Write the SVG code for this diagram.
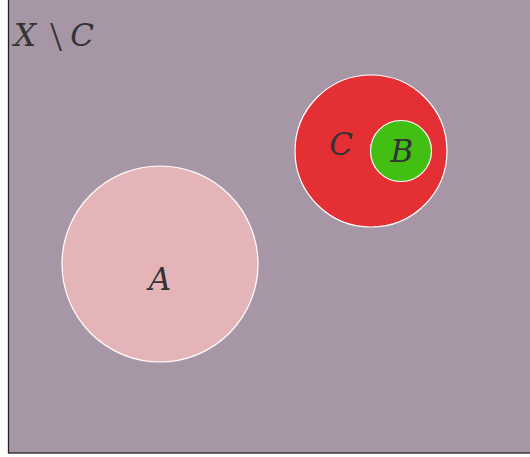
<svg xmlns="http://www.w3.org/2000/svg" width="530" height="457" viewBox="0 0 530 457">
<style>
.set{stroke:#ffffff;stroke-width:1.2}
text{font-family:'DejaVu Serif','Liberation Serif',serif;font-style:italic;font-size:31px;fill:#333333;text-anchor:middle}
</style>
<rect x="0" y="0" width="530" height="457" fill="#ffffff"/>
<rect id="universe" x="8.5" y="-1" width="524" height="454" fill="#a797a6" stroke="#222222" stroke-width="1.3"/>
<g id="label-XC">
<text x="25" y="46">X</text>
<text x="56" y="51" style="font-style:normal;font-size:42px;font-family:'Liberation Serif',serif">\</text>
<text x="82" y="46">C</text>
</g>
<g id="A">
<circle cx="160" cy="264" r="98" fill="#e4b4b8" class="set"/>
<text x="160" y="290">A</text>
</g>
<g id="C">
<circle cx="371" cy="151" r="76" fill="#e43035" class="set"/>
<text x="341" y="155">C</text>
</g>
<g id="B">
<circle cx="401" cy="151" r="30.5" fill="#43bf14" class="set"/>
<text x="402" y="162">B</text>
</g>
<g id="connectors"/>
</svg>
